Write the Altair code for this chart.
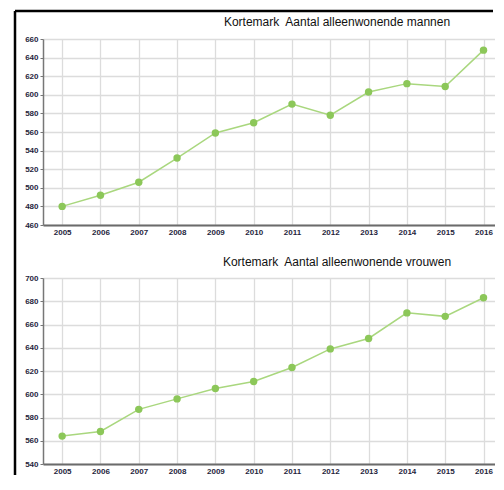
import altair as alt
import pandas as pd

years = [2005, 2006, 2007, 2008, 2009, 2010, 2011, 2012, 2013, 2014, 2015, 2016]
men = [480, 492, 506, 532, 559, 570, 590, 578, 603, 612, 609, 648]
women = [564, 568, 587, 596, 605, 611, 623, 639, 648, 670, 667, 683]

title_men = "Kortemark\u00a0 Aantal alleenwonende mannen"
title_women = "Kortemark\u00a0 Aantal alleenwonende vrouwen"

men_ticks = list(range(460, 661, 20))
women_ticks = list(range(540, 701, 20))

LINE = "#a9d77e"
POINT = "#8cc759"
FONT = "Liberation Sans"
W = 452
H = 186


def panel(values, ticks, title, with_border=False):
    df = pd.DataFrame({"jaar": years, "aantal": values})
    base = alt.Chart(df)
    x = alt.X("jaar:Q", title=None,
              scale=alt.Scale(domain=[years[0] - 0.5, years[-1] + 0.3], nice=False, zero=False),
              axis=alt.Axis(values=years, format="d", labelAngle=0, grid=True, ticks=False,
                            domainColor="#6b6b6b", domainWidth=2, labelPadding=3,
                            labelFlush=False, labelOverlap=False))
    y = alt.Y("aantal:Q", title=None,
              scale=alt.Scale(domain=[ticks[0], ticks[-1]], nice=False, zero=False),
              axis=alt.Axis(values=ticks, grid=True, tickSize=3, domainColor="#777777",
                            domainWidth=1.5, tickColor="#777777", labelPadding=2))
    line = base.mark_line(color=LINE, strokeWidth=1.5).encode(x=x, y=y)
    pts = base.mark_point(filled=True, color=POINT, size=55, opacity=1).encode(x=x, y=y)
    layers = [line, pts]
    if with_border:
        one = alt.Chart(pd.DataFrame({"k": [0]}))
        vrule = one.mark_rule(color="black", strokeWidth=2.5).encode(
            x=alt.value(-28), y=alt.value(-28), y2=alt.value(436))
        hrule = one.mark_rule(color="black", strokeWidth=2.5).encode(
            y=alt.value(-28), x=alt.value(-28), x2=alt.value(W - 2))
        layers = [vrule, hrule] + layers
        toff, tdy = 9, 28
    else:
        toff, tdy = 5, 0
    return alt.layer(*layers).properties(
        width=W, height=H,
        title=alt.TitleParams(title, anchor="middle", dx=68, dy=tdy, fontSize=12,
                              font=FONT, fontWeight="normal", color="#111111",
                              offset=toff, frame="group"),
    )


top = panel(men, men_ticks, title_men, with_border=True)
bottom = panel(women, women_ticks, title_women)

chart = alt.vconcat(top, bottom, spacing=53, bounds="flush").properties(
    padding={"left": 5, "top": 1, "right": 0, "bottom": 0},
    background="white",
).configure_view(stroke=None).configure_axis(
    labelFont=FONT, labelFontSize=8, labelFontWeight="bold", labelColor="#1f1f3d",
    gridColor="#dcdcdc", gridWidth=1.3,
)

chart.save("out.html", embed_options={"renderer": "svg", "actions": False})
